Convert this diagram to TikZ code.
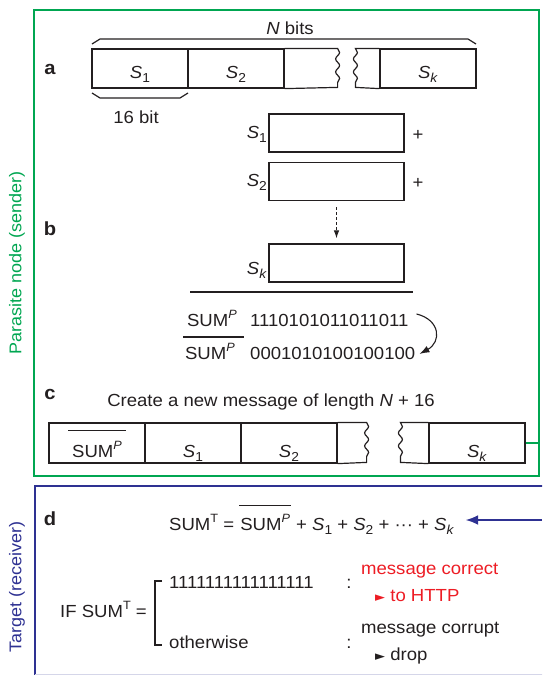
\documentclass[tikz,border=0pt]{standalone}
\usepackage{fontspec}
\setmainfont[FakeStretch=1.06]{Liberation Sans}
\newfontfamily\symfont{DejaVu Sans}
\usetikzlibrary{arrows.meta,decorations.pathmorphing}
\definecolor{pgreen}{RGB}{0,166,81}
\definecolor{tblue}{RGB}{46,49,146}
\definecolor{mred}{RGB}{237,28,36}
\definecolor{ink}{RGB}{35,31,32}
\newcommand{\sbs}[1]{\raisebox{-0.27em}{\fontsize{13}{13}\selectfont #1}}
\newcommand{\sps}[1]{\raisebox{0.42em}{\fontsize{12}{12}\selectfont #1}}
\newcommand{\Sx}[1]{\textit{S}\sbs{#1}}
\newcommand{\SUMP}{SUM\sps{\textit{P}}}
\newcommand{\SUMT}{SUM\sps{T}}
\newcommand{\ovl}[3]{\vbox{\hrule height 1.2pt\kern#1\hbox{\kern#2#3\kern#2}}}
\newcommand{\tri}{{\symfont\fontsize{13}{13}\selectfont ►}}
\begin{document}
\begin{tikzpicture}[x=1pt,y=-1pt,
  every node/.style={inner sep=0pt, font=\fontsize{17.5}{20}\selectfont, text=ink},
  boxline/.style={draw=ink, line width=1.2pt},
  cell/.style={boxline, minimum width=96pt, minimum height=39pt},
  bbox/.style={boxline, minimum width=135pt, minimum height=38pt},
  lbl/.style={anchor=base},
  panel/.style={anchor=base, font=\fontsize{19}{20}\selectfont\bfseries},
  wave/.style={decoration={snake, segment length=13pt, amplitude=2pt}},
]
\useasboundingbox (0,0) rectangle (542,675);
\clip (0,0) rectangle (542,675);

% frames
\draw[pgreen, line width=2.2pt] (34,10) rectangle (539,476);
\coordinate (gedge) at (539,441);
\draw[tblue, line width=2.5pt] (35,690) -- (35,486) -- (560,486);
\draw[tblue!20, line width=1pt] (35,674) -- (560,674);

\node[rotate=90, text=pgreen, font=\fontsize{17}{20}\selectfont] (plab) at (17,263) {Parasite node (sender)};
\node[rotate=90, text=tblue, font=\fontsize{17}{20}\selectfont] (tlab) at (17,587) {Target (receiver)};

% panel a
\node[panel] (pa) at (50,74) {a};
\node[lbl] (nbits) at (290,34) {\textit{N} bits};
\draw[boxline] (92,44) -- (100,39) -- (468,39) -- (476,44);
\node[cell] (a1) at (140,68.5) {};
\node[cell] (a2) at (236,68.5) {};
\node[cell] (ak) at (428,68.5) {};
\node[lbl] (a1t) at (140,78) {\Sx{1}};
\node[lbl] (a2t) at (236,78) {\Sx{2}};
\node[lbl] (akt) at (428,78) {\Sx{\textit{k}}};
\draw[boxline] (a2.north east) -- ++(53,0) decorate[wave]{-- ++(0,39)} -- (a2.south east);
\draw[boxline] (ak.north west) -- ++(-24,0) decorate[wave]{-- ++(0,39)} -- (ak.south west);
\draw[boxline] (92,93) -- (100,98) -- (180,98) -- (188,93);
\node[lbl] (sixteen) at (136,123) {16 bit};

% panel b
\node[panel] (pb) at (50,235) {b};
\node[bbox] (b1) at (336.5,133) {};
\node[bbox] (b2) at (336.5,181.5) {};
\node[bbox] (bk) at (336.5,263) {};
\node[anchor=base east] (b1t) at (267,138) {\Sx{1}};
\node[anchor=base east] (b2t) at (267,186) {\Sx{2}};
\node[anchor=base east] (bkt) at (267,274) {\Sx{\textit{k}}};
\node[lbl] (p1) at (418,140) {+};
\node[lbl] (p2) at (418,188) {+};
\draw[ink, line width=1pt, densely dashed, -{Latex[length=8pt,width=5.5pt]}] ([yshift=-6pt]b2.south) -- ([yshift=5pt]bk.north);
\draw[boxline] (190,292) -- (413,292);
\node[anchor=base east] (sp1) at (237,326) {\SUMP};
\node[anchor=base west] (n1) at (250,326) {1110101011011011};
\node[anchor=base east] (sp2) at (235,359) {\SUMP};
\node[anchor=base west] (n2) at (250,359) {0001010100100100};
\draw[boxline] (183,337) -- (244,337);
\draw[ink, line width=1.1pt, -{Latex[length=10pt,width=7pt]}] ([xshift=8pt,yshift=6pt]n1.east) .. controls +(24,6) and +(22,-12) .. ([xshift=4pt,yshift=-1pt]n2.east);

% panel c
\node[panel] (pc) at (50,399) {c};
\node[lbl] (ctext) at (271,406) {Create a new message of length \textit{N} + 16};
\node[cell, minimum height=40pt] (c0) at (97,443) {};
\node[cell, minimum height=40pt] (c1) at (193,443) {};
\node[cell, minimum height=40pt] (c2) at (289,443) {};
\node[cell, minimum height=40pt] (ck) at (477,443) {};
\node[lbl] (c0t) at (97,457) {\ovl{10pt}{4pt}{\SUMP}};
\node[lbl] (c1t) at (193,457) {\Sx{1}};
\node[lbl] (c2t) at (289,457) {\Sx{2}};
\node[lbl] (ckt) at (477,457) {\Sx{\textit{k}}};
\draw[boxline] (c2.north east) -- ++(29,0) decorate[wave]{-- ++(0,40)} -- (c2.south east);
\draw[boxline] (ck.north west) -- ++(-28,0) decorate[wave]{-- ++(0,40)} -- (ck.south west);
\draw[pgreen, line width=2.2pt] (ck.east) -- (ck.east -| gedge);

% panel d
\node[panel] (pd) at (50,525) {d};
\node[anchor=base west] (eq) at (169,530) {\SUMT{} = \ovl{8pt}{1pt}{\SUMP} + \Sx{1} + \Sx{2} + ··· + \Sx{\textit{k}}};
\coordinate (bin) at (542,520);
\draw[tblue, line width=2.6pt, shorten >=11pt, -{Latex[length=13pt,width=10pt]}] (bin) -- (bin -| eq.east);

\node[anchor=base east] (ifs) at (147,617) {IF \SUMT{} =};
\draw[ink, line width=2.4pt] (162,581) -- (155,581) -- (155,645) -- (162,645);
\node[anchor=base west] (ones) at (169,588) {1111111111111111};
\node[lbl] (col1) at (349,588) {:};
\node[anchor=base west] (oth) at (169,648) {otherwise};
\node[lbl] (col2) at (349,648) {:};
\node[anchor=base west, text=mred] (mc) at (361,574) {message correct};
\node[anchor=base west, text=mred] (http) at (375,601) {\tri\ to HTTP};
\node[anchor=base west] (mx) at (361,633) {message corrupt};
\node[anchor=base west] (drop) at (375,660) {\tri\ drop};
\end{tikzpicture}
\end{document}
